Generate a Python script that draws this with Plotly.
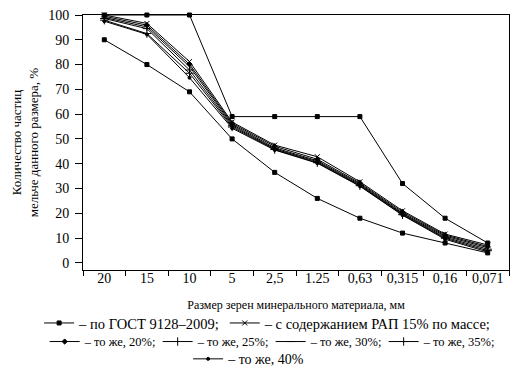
import plotly.graph_objects as go

sizes = ["20", "15", "10", "5", "2,5", "1.25", "0,63", "0,315", "0,16", "0,071"]

gost_upper = [100, 100, 100, 59, 59, 59, 59, 32, 18, 8]
gost_lower = [90, 80, 69, 50, 36.5, 26, 18, 12, 8, 4]

rap15 = [100, 96.6, 81.2, 56.8, 47.5, 42.8, 32.7, 21.0, 11.6, 7.2]
rap20 = [99.5, 95.9, 80.1, 56.3, 47.0, 41.8, 32.2, 20.5, 11.2, 6.6]
rap25 = [99.0, 95.2, 79.2, 55.8, 46.4, 41.2, 31.8, 20.0, 10.8, 6.1]
rap30 = [98.6, 94.5, 77.8, 55.3, 46.0, 40.8, 31.4, 19.7, 10.3, 5.5]
rap35 = [97.9, 92.5, 76.5, 54.8, 45.7, 40.4, 31.1, 19.4, 9.9, 4.9]
rap40 = [97.5, 92.2, 74.7, 54.3, 45.5, 40.2, 30.9, 19.2, 9.5, 4.4]

names = {
    "gost": "– по ГОСТ 9128–2009;",
    "15": "– с содержанием РАП 15% по массе;",
    "20": "– то же, 20%;",
    "25": "– то же, 25%;",
    "30": "– то же, 30%;",
    "35": "– то же, 35%;",
    "40": "– то же, 40%",
}

FONT = "Liberation Serif, Times New Roman, DejaVu Serif, serif"
fig = go.Figure()

def add(y, name, symbol, legend, show=True, size=4):
    fig.add_trace(go.Scatter(
        x=sizes, y=y, name=name, mode="lines+markers",
        line=dict(color="black", width=1),
        marker=dict(symbol=symbol, size=size, color="black",
                    line=dict(color="black", width=1)),
        showlegend=show, legend=legend, cliponaxis=False,
    ))

add(gost_upper, names["gost"], "square", "legend")
add(gost_lower, names["gost"], "square", "legend", show=False)
add(rap15, names["15"], "x-thin-open", "legend", size=5)
add(rap20, names["20"], "diamond", "legend2")
add(rap25, names["25"], "line-ns-open", "legend2", size=6)
add(rap30, names["30"], "line-ew-open", "legend2", size=6)
add(rap35, names["35"], "cross-thin-open", "legend2", size=6)
add(rap40, names["40"], "circle", "legend3", size=3)

def legend_style(size, **kw):
    d = dict(orientation="h", yanchor="middle",
             font=dict(family=FONT, size=size, color="black"),
             itemwidth=30, bgcolor="rgba(0,0,0,0)")
    d.update(kw)
    return d

# page body adds an 8px offset, so the figure is 8px smaller than the window
fig.update_layout(
    width=514, height=359,
    margin=dict(l=75, r=13, t=7, b=97, autoexpand=False),
    paper_bgcolor="white", plot_bgcolor="white",
    font=dict(family=FONT, color="black"),
    legend=dict(x=-0.103, xanchor="left", y=-0.208, **legend_style(14.5)),
    legend2=dict(x=-0.09, xanchor="left", y=-0.282,
                 **legend_style(12.5, entrywidth=68)),
    legend3=dict(x=0.39, xanchor="center", y=-0.35, **legend_style(14)),
    xaxis=dict(
        type="category", range=[-0.5, 9.5],
        showline=True, linecolor="black", linewidth=1, mirror=True,
        ticks="outside", tickson="boundaries", ticklen=5, tickcolor="black",
        showgrid=False, tickfont=dict(family=FONT, size=14, color="black"),
        ticklabelstandoff=-5,
        title=dict(text="Размер зерен минерального материала, мм",
                   font=dict(family=FONT, size=12, color="black"), standoff=15),
        automargin=True,
    ),
    yaxis=dict(
        range=[-2.9, 100],
        tickvals=[0, 10, 20, 30, 40, 50, 60, 70, 80, 90, 100],
        showline=True, linecolor="black", linewidth=1, mirror=True,
        ticks="outside", ticklen=7, tickcolor="black",
        showgrid=False, zeroline=False,
        tickfont=dict(family=FONT, size=14, color="black"),
        ticklabelstandoff=3, ticklabeloverflow="allow",
        title=dict(text="Количество частиц<br>мельче данного размера, %",
                   font=dict(family=FONT, size=13, color="black"), standoff=6),
        automargin=False,
    ),
)

fig.write_html("out.html")
